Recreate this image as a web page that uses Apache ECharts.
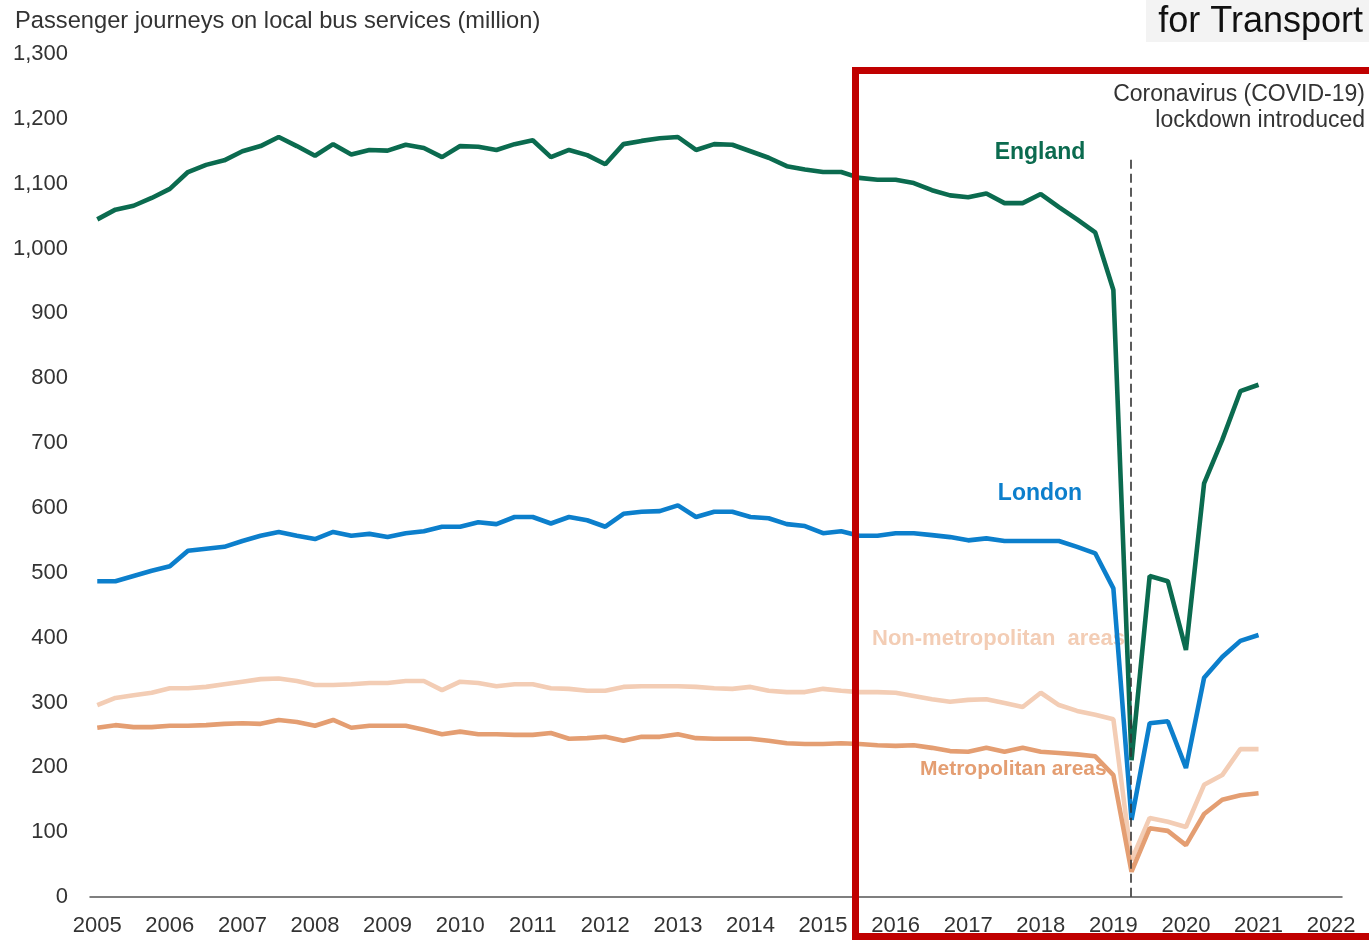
<!DOCTYPE html>
<html>
<head>
<meta charset="utf-8">
<script src="https://cdn.jsdelivr.net/npm/echarts@6/dist/echarts.min.js"></script>
<style>html,body{margin:0;padding:0;background:#fff}#c{width:1369px;height:940px}</style>
</head>
<body>
<div id="c"></div>
<script>
// Quarterly periods 2005 Q1 .. 2021 Q1
const years = [2005,2006,2007,2008,2009,2010,2011,2012,2013,2014,2015,2016,2017,2018,2019,2020,2021];
const quarterOffsets = [0, 0.25, 0.5, 0.75];
const yearLabels = [2005,2006,2007,2008,2009,2010,2011,2012,2013,2014,2015,2016,2017,2018,2019,2020,2021,2022];
const yTicks = [0,100,200,300,400,500,600,700,800,900,1000,1100,1200,1300];

const england = [
  1045,1060,1066,1078, 1092,1118,1129,1136, 1150,1158,1172,1158, 1143,1161,1145,1152,
  1151,1160,1155,1141, 1158,1157,1152,1161, 1167,1141,1152,1144, 1130,1161,1166,1170,
  1172,1152,1161,1160, 1150,1140,1127,1122, 1118,1118,1109,1106, 1106,1101,1090,1082,
  1079,1085,1070,1070, 1084,1064,1045,1025, 936,211,495,487, 381,638,705,780, 790
];
const london = [
  487,487,495,503, 510,534,537,540, 549,557,563,557, 552,563,557,560,
  555,561,564,571, 571,578,575,586, 586,576,586,581, 571,591,594,595,
  604,586,594,594, 586,584,575,572, 561,564,557,557, 561,561,558,555,
  550,553,549,549, 549,549,540,530, 476,119,268,271, 199,338,370,395, 404
];
const nonMetro = [
  296,307,311,315, 322,322,324,328, 332,336,337,333, 327,327,328,330,
  330,333,333,319, 332,330,325,328, 328,322,321,318, 318,324,325,325,
  325,324,322,321, 324,318,316,316, 321,318,316,316, 315,310,305,301,
  304,305,299,293, 315,296,287,281, 274,57,122,116, 108,173,188,228, 228
];
const metro = [
  261,265,262,262, 264,264,265,267, 268,267,273,270, 264,273,261,264,
  264,264,258,251, 255,251,251,250, 250,253,244,245, 247,241,247,247,
  251,245,244,244, 244,241,237,236, 236,237,236,234, 233,234,230,225,
  224,230,224,230, 224,222,220,217, 188,39,106,102, 80,128,150,157, 160
];
const lockdownX = 2019.24;
const lockdownTop = 1137;

const periods = [];
years.forEach(y => quarterOffsets.forEach(q => { if (periods.length < 65) periods.push(y + q); }));
const pairs = arr => arr.map((v, i) => [periods[i], v]);

const C_ENG = '#0b6b4f', C_LON = '#0c7fcc', C_NON = '#f3cdb5', C_MET = '#e49e72';
const FONT = 'Liberation Sans, Arial, sans-serif';

const chart = echarts.init(document.getElementById('c'), null, {renderer: 'canvas'});
const lineSeries = (name, data, color) => ({
  name, type: 'line', data: pairs(data), symbol: 'none', smooth: false,
  lineStyle: {color, width: 4.6}, itemStyle: {color}, z: 3, animation: false
});

chart.setOption({
  animation: false,
  backgroundColor: '#fff',
  title: {
    text: 'Passenger journeys on local bus services (million)',
    left: 10, top: 4,
    textStyle: {fontFamily: FONT, fontSize: 23.7, fontWeight: 'normal', color: '#333'}
  },
  grid: {left: 90, right: 27, top: 54, bottom: 43, containLabel: false},
  xAxis: {
    type: 'value', min: 2004.9, max: 2022.15,
    axisLine: {show: true, lineStyle: {color: '#555', width: 1.5}},
    axisTick: {show: false},
    splitLine: {show: false},
    axisLabel: {customValues: yearLabels, formatter: v => String(v), fontFamily: FONT, fontSize: 22, color: '#333', margin: 18}
  },
  yAxis: {
    type: 'value', min: 0, max: 1300, interval: 100,
    axisLine: {show: false}, axisTick: {show: false}, splitLine: {show: false},
    axisLabel: {customValues: yTicks, formatter: v => v.toLocaleString('en-US'), fontFamily: FONT, fontSize: 22, color: '#333', margin: 22}
  },
  series: [
    lineSeries('Non-metropolitan areas', nonMetro, C_NON),
    lineSeries('Metropolitan areas', metro, C_MET),
    lineSeries('London', london, C_LON),
    Object.assign(lineSeries('England', england, C_ENG), {
      markLine: {
        silent: true, symbol: 'none', animation: false,
        lineStyle: {color: '#333', width: 1.6, type: [9, 5]},
        label: {show: false},
        data: [[{coord: [lockdownX, lockdownTop]}, {coord: [lockdownX, 0]}]]
      }
    })
  ],
  graphic: [
    {type: 'text', z: 1, x: 1040, y: 153, style: {text: 'England', fill: C_ENG, font: 'bold 23px ' + FONT, align: 'center', verticalAlign: 'middle'}},
    {type: 'text', z: 1, x: 1040, y: 494, style: {text: 'London', fill: C_LON, font: 'bold 23px ' + FONT, align: 'center', verticalAlign: 'middle'}},
    {type: 'text', z: 1, x: 872, y: 639, style: {text: 'Non-metropolitan  areas', fill: C_NON, font: 'bold 22px ' + FONT, align: 'left', verticalAlign: 'middle'}},
    {type: 'text', z: 1, x: 920, y: 769, style: {text: 'Metropolitan areas', fill: C_MET, font: 'bold 21px ' + FONT, align: 'left', verticalAlign: 'middle'}},
    {type: 'text', z: 5, x: 1365, y: 95, style: {text: 'Coronavirus (COVID-19)', fill: '#333', font: '23px ' + FONT, align: 'right', verticalAlign: 'middle'}},
    {type: 'text', z: 5, x: 1365, y: 121, style: {text: 'lockdown introduced', fill: '#333', font: '23px ' + FONT, align: 'right', verticalAlign: 'middle'}},
    {type: 'rect', z: 50, shape: {x: 1146, y: 0, width: 223, height: 42}, style: {fill: '#f3f3f3'}},
    {type: 'text', z: 51, x: 1363, y: 22, style: {text: 'for Transport', fill: '#111', font: '36px ' + FONT, align: 'right', verticalAlign: 'middle'}},
    {type: 'rect', z: 100, shape: {x: 855.5, y: 70.5, width: 530, height: 866}, style: {fill: 'none', stroke: '#c00000', lineWidth: 7}}
  ]
});
</script>
</body>
</html>
